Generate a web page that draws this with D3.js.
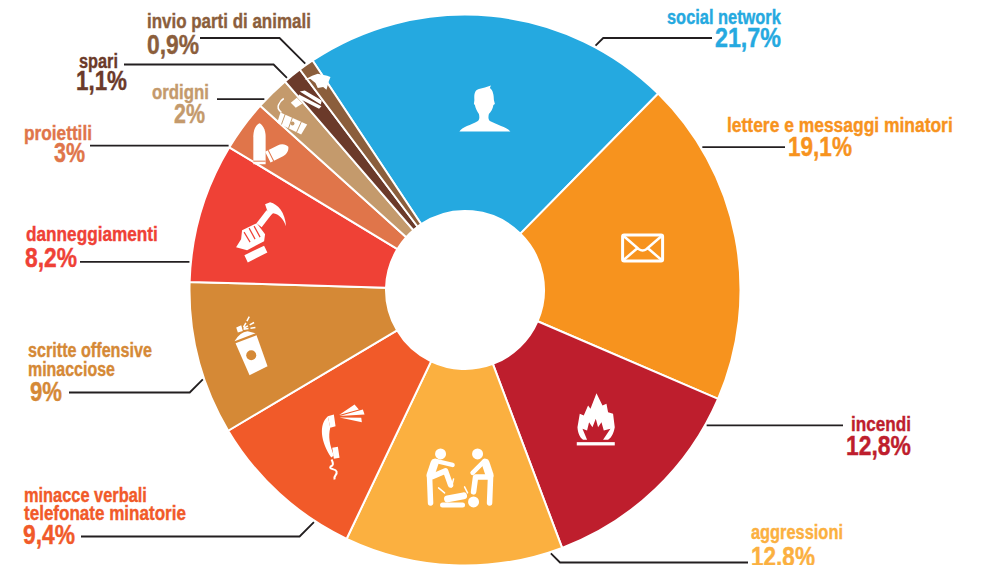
<!DOCTYPE html>
<html>
<head>
<meta charset="utf-8">
<script src="https://cdn.jsdelivr.net/npm/d3@7"></script>
<style>
	html, body { margin: 0; padding: 0; background: #fff; overflow: hidden; }
	text { font-family: "Liberation Sans", sans-serif; font-weight: bold; }
</style>
</head>
<body>
<script>
// values
const categories = ["social network", "lettere e messaggi minatori", "incendi", "aggressioni",
	"minacce verbali telefonate minatorie", "scritte offensive minacciose", "danneggiamenti",
	"proiettili", "ordigni", "spari", "invio parti di animali"];
const nameLines = [["social network"], ["lettere e messaggi minatori"], ["incendi"], ["aggressioni"],
	["minacce verbali", "telefonate minatorie"], ["scritte offensive", "minacciose"], ["danneggiamenti"],
	["proiettili"], ["ordigni"], ["spari"], ["invio parti di animali"]];
const values = [21.7, 19.1, 12.8, 12.8, 9.4, 9, 8.2, 3, 2, 1.1, 0.9];

const colors = ["#25a9e0", "#f7931e", "#be1e2d", "#fbb040", "#f15a29", "#d58936", "#ef4136",
	"#e0754a", "#c49a6c", "#6b3a2a", "#8b5e3c"];

// Text boxes: [x, baseline, width] for each name line, then the percent
const nameBoxes = [
	[[667, 24, 114]], [[727, 132, 226]], [[851, 431, 60]], [[751, 539, 92]],
	[[24, 502, 123], [24, 520, 162]], [[28, 357, 124], [28, 376, 87]], [[26, 241, 132]],
	[[24, 140, 68]], [[152, 99, 57]], [[79, 68, 39]], [[147, 28, 164]]
];
const pctBoxes = [[715, 47, 66], [788, 156, 64], [846, 455, 65], [751, 566, 64], [23, 544, 52],
	[30, 401, 32], [25, 267, 52], [54, 162, 31], [174, 123, 31], [76, 90, 51], [147, 54, 52]];

// Leaders: where on the slice (0-1) they start, height of the run (null = flat), far end of the run
const leaderAt = [0.79, 0.21, 0.13, 0.056, 0.225, 0.367, 0.14, 0.02, 0.22, 0.2, 0.5];
const leaderY = [38, null, null, 562.5, 536.5, 392.5, null, null, null, 64.5, 38];
const leaderEnd = [712, 785, 843, 748, 81, 69, 80, 90, 217, 124, 200];

// Icons: [slice fraction, radius]
const iconAt = [[0.51, 183], [0.468, 182.5], [0.465, 184], [0.488, 200], [0.403, 199], [0.485, 221],
	[0.424, 215.5], [0.5, 244.6], [0.37, 245.4], [0.32, 247], [0.53, 254.7]];

// white pictograms, drawn around 0,0. currentColor = colour of the slice
const icons = [
	// person
	`<path d="M-25.5 23.5C-23 19-14 17-7 13-5 11-5.5 8-6 6-8 3-9.5 0-10-3L-11-4-10.5-8C-11-14-10-18-6-19-2-20 2-21 6-22.5L5-20C8-18 9-13 9-8L10-4 8.5-3C8 1 6 4 4 6 3.5 8 3 11 5 13 12 17 22 19 25.5 23.5Z"/>`,
	// envelope
	`<rect x="-20" y="-13" width="40" height="26" rx="1.5" fill="none" stroke="#fff" stroke-width="3"/>
	 <path d="M-19-12L-4 1Q0 4 4 1L19-12M-19 12L-5 0M19 12L5 0" fill="none" stroke="#fff" stroke-width="2.5"/>`,
	// flame
	`<path d="M.7-26.3L6.7-14 10.7-15.7 12.3-7.3 17.3-5.7 19 7.7C18 13 16 18 12.3 20.3L7.3 20.3 14.7 9.3 8 11 5.7 2.7 2.3 7.7 0-.7-3.3 7.7-6.7 2.7-8.7 11-13.3 9.3-8.7 20.3-12.7 20.3C-16 18-18 13-18.3 7.7L-16-5.7-12-4-7.7-14-5.3-10.7Z"/>
	 <rect x="-19" y="22.7" width="38" height="3.3"/>`,
	// two figures kicking a third
	`<circle cx="-18" cy="-36" r="5.5"/><circle cx="19" cy="-36" r="5.5"/><circle cx="15" cy="12" r="5.5"/>
	 <g fill="none" stroke="#fff" stroke-linecap="round" stroke-linejoin="round">
	  <path d="M-24-27L-28-15" stroke-width="8"/><path d="M27-27L31-15" stroke-width="8"/>
	  <path d="M-23-29L-6-25M26-29L14-17" stroke-width="4.5"/>
	  <path d="M-27-13L-13-19-8-5M-29-13L-28 13M31-13L17-13 15 2M32-13L31 13" stroke-width="5.5"/>
	  <path d="M-16 15L4 15" stroke-width="5"/><path d="M-11 9L5 6" stroke-width="7"/>
	  <path d="M-20-2L-14 3M-5-11L-7-3M6-3L9 3" stroke-width="1.5"/>
	 </g>`,
	// phone
	`<path d="M-11.7-28.3C-21-20-19-3-8.3 13L-5.7 11C-10 0-11.5-8-9.3-16.7Z"/>
	 <path d="M-11.7-28.3L-5.7-30-4-18.3-9.3-16.7ZM-7.3 3.3L-1.7 2.3 0 13.3-5.7 14.3ZM-.5-29.5L15-40 19.3-35ZM0-28.5L23.3-35 25-30ZM0-27L21.7-26.7 22.3-22.3Z"/>
	 <path d="M-8 15C-6 19-6 21-9 22-11 25-4 24-3 27-2 31-6 30-5 35" fill="none" stroke="#fff" stroke-width="2"/>`,
	// spray can
	`<path d="M-16-4L5-12 16 19-2 28Z"/><circle cx="-0.3" cy="8" r="5" fill="currentColor"/>
	 <path d="M-17-6Q-12-15-4-16L4-14Z"/><path d="M-15.3-19.7L-10.3-22-8.7-16.3-13.7-14.7Z"/>
	 <path d="M-8-20L-2-31M-8-19L3-25M-8-18L4-19.7" fill="none" stroke="#fff" stroke-width="1.5" stroke-dasharray="5 2"/>`,
	// fist and hammer
	`<path d="M9-33L14-35C22-33 29-25 30-11 27-19 23-23 17-24L13-21Z"/>
	 <path d="M13-25L3-12" stroke="#fff" stroke-width="6.5"/>
	 <path d="M-14-7L.7-14 9-3 8 4-9 13-20 10-15 2Z"/>
	 <path d="M-7-9L-1 2M-2-11L4 0M-12-5L-6 5" stroke="currentColor" stroke-width="1.2"/>
	 <path d="M-11.7 18L8 8.5 11.3 15.3-8.3 25.3Z"/>`,
	// two bullets
	`<path d="M-15.3 20V-8C-15.3-15-12-20-9.2-21-6.5-20-3-15-3-8V20Z"/>
	 <rect x="-15.3" y="16.5" width="12.3" height="1" fill="currentColor"/>
	 <g transform="translate(9 8) rotate(-27)"><path d="M-11-6H3C8-6 11-3 12 0 11 3 8 6 3 6H-11Z"/>
	 <rect x="-8" y="-6" width="1" height="12" fill="currentColor"/></g>`,
	// dynamite
	`<path d="M-10-5L16.7 7 10.7 17-13.3 5.3Z"/>
	 <path d="M-5-4L-9 7M11 4L6 15M2 0L-2 11" stroke="currentColor" stroke-width="1"/>
	 <circle cx="2" cy="6" r="2" fill="currentColor"/>
	 <path d="M-9-5Q-14-9-11.7-13-10-17-6.7-19" fill="none" stroke="#fff" stroke-width="1.5"/>`,
	// pistol
	`<path d="M-8.7-5L13.7 6.7 11.3 9.3-10.3-1.7ZM-17 3.3L-11-1.7-5.3 4-12 8.3ZM-8-8L-3-9 14 1 13 5Z"/>`,
	// animal
	`<path d="M-14-2L-6.3-6-.7-8 8.7-6 12-4.7 10.3-.3 8 8 4.7 5.3-.7 6.3-3 1.3-8-2.7Z"/>`
];

const width = 981,
	height = 565,
	cx = 465,
	cy = 290,
	outerR = 275.5,
	innerR = 79,
	rad = Math.PI / 180,
	start = -33.6 * rad;

const svg = d3.select("body").append("svg")
	.attr("width", width)
	.attr("height", height)
	.style("display", "block");

const pie = d3.pie().sort(null).startAngle(start).endAngle(start + 2 * Math.PI);
const slices = pie(values);
const arc = d3.arc().innerRadius(innerR).outerRadius(outerR);

// point at a fraction of the slice, polar to page
const polar = (s, frac, r) => {
	const a = s.startAngle + frac * (s.endAngle - s.startAngle);
	return [cx + r * Math.sin(a), cy - r * Math.cos(a)];
};

/*---------Slices-----------*/
svg.append("g")
	.attr("transform", "translate(" + cx + "," + cy + ")")
	.selectAll("path")
	.data(slices)
	.enter()
	.append("path")
	.attr("d", arc)
	.attr("fill", (d, i) => colors[i])
	.attr("stroke", "#fff")
	.attr("stroke-width", 2)
	.attr("stroke-linejoin", "round");

/*---------Icons-----------*/
svg.append("g")
	.selectAll("g")
	.data(slices)
	.enter()
	.append("g")
	.attr("transform", (d, i) => "translate(" + polar(d, iconAt[i][0], iconAt[i][1]) + ")")
	.style("color", (d, i) => colors[i])
	.attr("fill", "#fff")
	.html((d, i) => icons[i]);

/*---------Leaders-----------*/
svg.append("g")
	.selectAll("path")
	.data(slices)
	.enter()
	.append("path")
	.attr("fill", "none")
	.attr("stroke", "#231f20")
	.attr("stroke-width", 1.8)
	.attr("d", (d, i) => {
		const p = polar(d, leaderAt[i], outerR + 1.5);
		const y = leaderY[i] === null ? p[1] : leaderY[i];
		const dir = leaderEnd[i] < p[0] ? -1 : 1;
		const elbow = p[0] + dir * Math.abs(y - p[1]);
		return d3.line()([p, [elbow, y], [leaderEnd[i], y]]);
	});

/*---------Labels-----------*/
// squeeze real bold text to the width it has in the picture
const fitText = (g, str, b, size) => {
	const t = g.append("text").attr("font-size", size).text(str);
	const sx = b[2] / t.node().getComputedTextLength();
	t.attr("transform", "translate(" + b[0] + "," + b[1] + ") scale(" + sx + ",1)");
};

const labels = svg.append("g")
	.selectAll("g")
	.data(categories)
	.enter()
	.append("g")
	.attr("fill", (d, i) => colors[i])
	.attr("stroke", (d, i) => colors[i])
	.attr("stroke-width", 0.4);

labels.each(function(d, i) {
	const g = d3.select(this);
	nameLines[i].forEach((line, k) => fitText(g, line, nameBoxes[i][k], 20.5));
	fitText(g, String(values[i]).replace(".", ",") + "%", pctBoxes[i], 27);
});
</script>
</body>
</html>
